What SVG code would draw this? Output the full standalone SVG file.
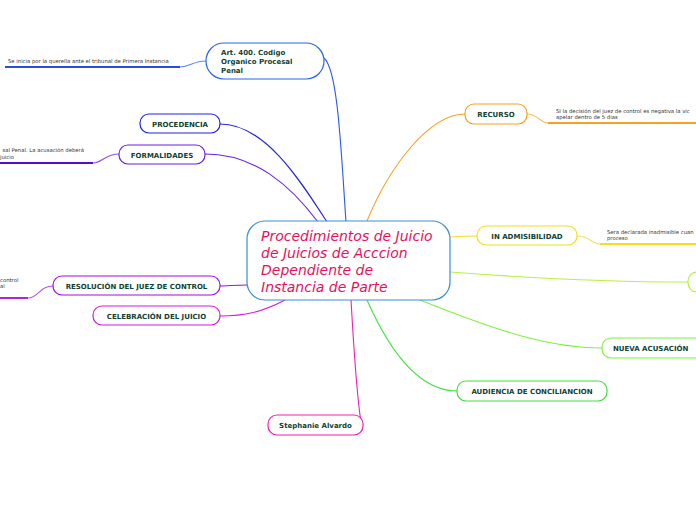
<svg xmlns="http://www.w3.org/2000/svg" width="696" height="520" viewBox="0 0 696 520">
<style>
.n{fill:#fff;stroke-width:1.2}
.t{font-family:"DejaVu Sans",Verdana,sans-serif;font-weight:bold;font-size:7px;fill:#123f33}
.s{font-family:"DejaVu Sans",Verdana,sans-serif;font-size:5.3px;fill:#333}
.c{fill:none;stroke-width:1.1}
.u{fill:none;stroke-width:1.8}
</style>
<rect width="696" height="520" fill="#fff"/>
<g id="connectors">
<path class="c" stroke="#2a5ae8" d="M346,222 C341,150 338,70 324,58"/>
<path class="c" stroke="#2222e0" d="M327,222 C300,180 265,124 220,124"/>
<path class="c" stroke="#6a20e0" d="M318,222 C290,185 255,154 205,154"/>
<path class="c" stroke="#a010e0" d="M247,285 C235,285 228,286 220,286"/>
<path class="c" stroke="#d818d8" d="M285,300 C262,312 245,316 220,316"/>
<path class="c" stroke="#f020b0" d="M351,300 C354,350 356,390 361,422"/>
<path class="c" stroke="#40e040" d="M367,300 C390,352 420,391 457,391"/>
<path class="c" stroke="#80f040" d="M420,300 C500,332 550,348 602,348"/>
<path class="c" stroke="#b8f040" d="M450,272 C530,278 600,282 688,282"/>
<path class="c" stroke="#f0e020" d="M450,237 C462,236 470,236 477,236"/>
<path class="c" stroke="#f8a020" d="M367,221 C390,165 430,114 465,114"/>
<path class="c" stroke="#5a8af0" d="M206,61 C193,61 190,67 180,67"/>
<path class="u" stroke="#2a4ae0" d="M5,67 H180"/>
<path class="c" stroke="#8a50e8" d="M119,154 C105,154 102,163 93,163"/>
<path class="u" stroke="#5010c8" d="M0,163 H93"/>
<path class="c" stroke="#c050e8" d="M53,286 C40,286 38,298 28,298"/>
<path class="u" stroke="#a010d0" d="M0,298 H28"/>
<path class="c" stroke="#f8c060" d="M527,114 C538,114 540,123 548,123"/>
<path class="u" stroke="#f8a020" d="M548,123 H696"/>
<path class="c" stroke="#f0e060" d="M577,236 C590,236 592,244 600,244"/>
<path class="u" stroke="#f0e020" d="M600,244 H696"/>
</g>
<g id="central">
<rect class="n" x="247" y="221" width="203" height="79" rx="18" stroke="#3a8fd0"/>
<g font-family="DejaVu Sans,Verdana,sans-serif" font-style="italic" font-size="14" fill="#e8105a">
<text x="261" y="241">Procedimientos de Juicio</text>
<text x="261" y="258">de Juicios de Acccion</text>
<text x="261" y="275">Dependiente de</text>
<text x="261" y="292">Instancia de Parte</text>
</g>
</g>
<g id="art400">
<rect class="n" x="206" y="43" width="118" height="36" rx="18" stroke="#2a66e8"/>
<text class="t" x="221" y="55">Art. 400. Codigo</text>
<text class="t" x="221" y="64">Organico Procesal</text>
<text class="t" x="221" y="73">Penal</text>
</g>
<g id="art400-sub"><text class="s" x="8" y="63">Se inicia por la querella ante el tribunal de Primera Instancia</text></g>
<g id="procedencia">
<rect class="n" x="140" y="114" width="80" height="19" rx="9" stroke="#2222e0"/>
<text class="t" x="180" y="126.5" text-anchor="middle">PROCEDENCIA</text>
</g>
<g id="formalidades">
<rect class="n" x="119" y="145" width="86" height="19" rx="9" stroke="#6a20e0"/>
<text class="t" x="162" y="157.5" text-anchor="middle">FORMALIDADES</text>
</g>
<g id="formalidades-sub">
<text class="s" x="84" y="151.5" text-anchor="end">sal Penal. La acusación deberá</text>
<text class="s" x="0" y="158.5">juicio</text>
</g>
<g id="resolucion">
<rect class="n" x="53" y="276" width="167" height="19" rx="9" stroke="#a010e0"/>
<text class="t" x="136.5" y="288.5" text-anchor="middle">RESOLUCIÓN DEL JUEZ DE CONTROL</text>
</g>
<g id="resolucion-sub">
<text class="s" x="0" y="281.5">control</text>
<text class="s" x="0" y="287.5">al</text>
</g>
<g id="celebracion">
<rect class="n" x="93" y="306" width="127" height="19" rx="9" stroke="#d818d8"/>
<text class="t" x="156.5" y="318.5" text-anchor="middle">CELEBRACIÓN DEL JUICIO</text>
</g>
<g id="stephanie">
<rect class="n" x="268" y="415" width="95" height="20" rx="9" stroke="#f020b0"/>
<text class="t" x="315.5" y="428" text-anchor="middle">Stephanie Alvardo</text>
</g>
<g id="audiencia">
<rect class="n" x="457" y="381" width="150" height="20" rx="9" stroke="#40e040"/>
<text class="t" x="532" y="394" text-anchor="middle">AUDIENCIA DE CONCILIANCION</text>
</g>
<g id="nueva">
<rect class="n" x="602" y="338" width="104" height="20" rx="9" stroke="#80f040"/>
<text class="t" x="613" y="351">NUEVA ACUSACIÓN</text>
</g>
<g id="right-node">
<rect class="n" x="688" y="272" width="30" height="20" rx="9" stroke="#b8f040"/>
</g>
<g id="inadmisibilidad">
<rect class="n" x="477" y="226" width="100" height="19" rx="9" stroke="#f0e020"/>
<text class="t" x="527" y="238.5" text-anchor="middle">IN ADMISIBILIDAD</text>
</g>
<g id="inadmisibilidad-sub">
<text class="s" x="607" y="234">Sera declarada inadmisible cuan</text>
<text class="s" x="607" y="240">proceso</text>
</g>
<g id="recurso">
<rect class="n" x="465" y="104" width="62" height="20" rx="9" stroke="#f8a020"/>
<text class="t" x="496" y="117" text-anchor="middle">RECURSO</text>
</g>
<g id="recurso-sub">
<text class="s" x="556" y="113">SI la decisión del juez de control es negativa la vic</text>
<text class="s" x="556" y="119">apelar dentro de 5 dias</text>
</g>
</svg>
